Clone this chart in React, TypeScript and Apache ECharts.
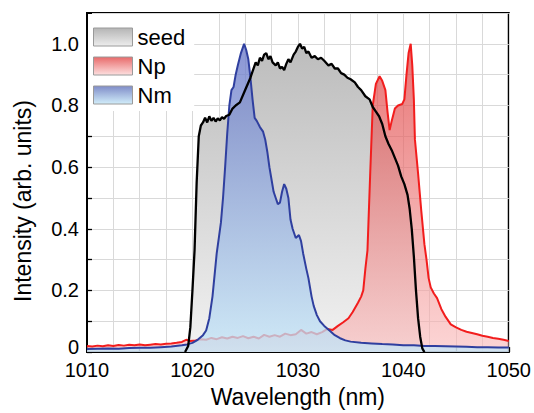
import React, { useEffect, useRef } from 'react';
import * as echarts from 'echarts';

// Wavelength (nm) / normalised intensity pairs
const seedSpectrum: [number, number][] = [
  [1019.3, 0], [1019.6, 0.02], [1019.8, 0.08], [1020.0, 0.2], [1020.2, 0.33], [1020.4, 0.55],
  [1020.6, 0.7], [1020.8, 0.735], [1021.0, 0.745], [1021.2, 0.76], [1021.4, 0.745], [1021.6, 0.765],
  [1021.8, 0.75], [1022.0, 0.76], [1022.2, 0.748], [1022.4, 0.758], [1022.6, 0.752], [1022.8, 0.762],
  [1023.0, 0.757], [1023.2, 0.766], [1023.5, 0.77], [1023.8, 0.79], [1024.1, 0.8], [1024.5, 0.81],
  [1025.0, 0.85], [1025.5, 0.89], [1025.8, 0.92], [1026.0, 0.94], [1026.2, 0.93], [1026.4, 0.955],
  [1026.6, 0.945], [1026.8, 0.965], [1027.0, 0.97], [1027.2, 0.95], [1027.4, 0.96], [1027.6, 0.94],
  [1027.9, 0.93], [1028.1, 0.94], [1028.3, 0.92], [1028.5, 0.925], [1028.7, 0.915], [1028.9, 0.935],
  [1029.1, 0.95], [1029.3, 0.94], [1029.6, 0.965], [1029.8, 0.975], [1030.0, 0.99], [1030.2, 1.0],
  [1030.4, 0.985], [1030.6, 0.99], [1030.8, 0.97], [1031.0, 0.975], [1031.3, 0.955], [1031.6, 0.96],
  [1031.9, 0.95], [1032.2, 0.955], [1032.5, 0.945], [1032.9, 0.93], [1033.2, 0.935], [1033.5, 0.92],
  [1033.8, 0.92], [1034.1, 0.905], [1034.4, 0.9], [1034.7, 0.89], [1035.0, 0.885], [1035.4, 0.875],
  [1035.7, 0.86], [1036.0, 0.85], [1036.4, 0.83], [1036.8, 0.82], [1037.1, 0.795], [1037.4, 0.78],
  [1037.7, 0.765], [1038.0, 0.74], [1038.3, 0.7], [1038.6, 0.675], [1038.9, 0.655], [1039.2, 0.63],
  [1039.5, 0.605], [1039.8, 0.57], [1040.1, 0.545], [1040.4, 0.51], [1040.6, 0.465], [1040.8, 0.4],
  [1041.0, 0.31], [1041.2, 0.2], [1041.4, 0.11], [1041.6, 0.05], [1041.8, 0.012], [1042.0, 0],
];

const npSpectrum: [number, number][] = [
  [1010, 0.02], [1010.5, 0.018], [1011, 0.021], [1011.5, 0.019], [1012, 0.022], [1012.5, 0.02],
  [1013, 0.023], [1013.5, 0.021], [1014, 0.024], [1014.5, 0.022], [1015, 0.025], [1015.5, 0.022],
  [1016, 0.024], [1016.5, 0.026], [1017, 0.025], [1017.5, 0.027], [1018, 0.028], [1018.5, 0.03],
  [1019, 0.033], [1019.4, 0.04], [1019.8, 0.036], [1020.3, 0.038], [1020.8, 0.042], [1021.3, 0.04],
  [1021.8, 0.046], [1022.3, 0.042], [1022.8, 0.048], [1023.3, 0.044], [1023.8, 0.05], [1024.3, 0.046],
  [1024.8, 0.052], [1025.3, 0.045], [1025.8, 0.05], [1026.3, 0.044], [1026.8, 0.056], [1027.3, 0.05],
  [1027.8, 0.055], [1028.3, 0.05], [1028.8, 0.06], [1029.3, 0.055], [1029.8, 0.058], [1030.3, 0.072],
  [1030.8, 0.06], [1031.3, 0.065], [1031.8, 0.058], [1032.3, 0.065], [1032.8, 0.075], [1033.3, 0.072],
  [1033.8, 0.085], [1034.3, 0.097], [1034.8, 0.11], [1035.2, 0.13], [1035.7, 0.16], [1036.0, 0.18],
  [1036.2, 0.2], [1036.4, 0.27], [1036.6, 0.33], [1036.85, 0.57], [1037.1, 0.8], [1037.4, 0.87],
  [1037.75, 0.895], [1038.0, 0.88], [1038.3, 0.85], [1038.5, 0.78], [1038.7, 0.72], [1038.9, 0.75],
  [1039.2, 0.79], [1039.5, 0.8], [1039.9, 0.805], [1040.1, 0.82], [1040.3, 0.9], [1040.5, 0.97],
  [1040.7, 1.0], [1040.85, 0.93], [1041.0, 0.82], [1041.1, 0.69], [1041.4, 0.58], [1041.7, 0.46],
  [1042.0, 0.35], [1042.2, 0.3], [1042.4, 0.24], [1042.6, 0.21], [1042.9, 0.19], [1043.2, 0.175],
  [1043.6, 0.14], [1044.0, 0.115], [1044.5, 0.09], [1045.0, 0.08], [1045.5, 0.072], [1046.0, 0.066],
  [1046.5, 0.062], [1047.0, 0.058], [1047.5, 0.053], [1048.0, 0.05], [1048.5, 0.046], [1049.0, 0.043],
  [1049.5, 0.04], [1050, 0.036],
];

const nmSpectrum: [number, number][] = [
  [1010, 0.01], [1011, 0.011], [1012, 0.012], [1013, 0.011], [1014, 0.013], [1015, 0.014],
  [1016, 0.014], [1017, 0.016], [1018, 0.018], [1019, 0.022], [1019.5, 0.025], [1020, 0.03],
  [1020.5, 0.04], [1021, 0.055], [1021.3, 0.07], [1021.6, 0.11], [1021.9, 0.18], [1022.1, 0.25],
  [1022.3, 0.32], [1022.5, 0.37], [1022.7, 0.42], [1022.9, 0.5], [1023.1, 0.6], [1023.3, 0.71],
  [1023.5, 0.8], [1023.7, 0.85], [1023.9, 0.86], [1024.1, 0.9], [1024.3, 0.93], [1024.6, 0.97],
  [1024.9, 1.0], [1025.1, 0.98], [1025.3, 0.95], [1025.5, 0.89], [1025.7, 0.82], [1025.9, 0.76],
  [1026.1, 0.75], [1026.4, 0.73], [1026.7, 0.715], [1026.9, 0.69], [1027.1, 0.65], [1027.3, 0.6],
  [1027.5, 0.56], [1027.7, 0.52], [1027.9, 0.5], [1028.1, 0.48], [1028.3, 0.485], [1028.5, 0.52],
  [1028.7, 0.545], [1028.9, 0.53], [1029.1, 0.5], [1029.3, 0.43], [1029.5, 0.4], [1029.8, 0.37],
  [1030.1, 0.38], [1030.3, 0.36], [1030.5, 0.32], [1030.8, 0.27], [1031.0, 0.24], [1031.3, 0.18],
  [1031.5, 0.15], [1031.8, 0.12], [1032.1, 0.1], [1032.5, 0.085], [1033, 0.07], [1033.5, 0.055],
  [1034, 0.045], [1034.5, 0.038], [1035, 0.034], [1036, 0.03], [1037, 0.028], [1038, 0.026],
  [1039, 0.025], [1040, 0.022], [1041, 0.022], [1042, 0.02], [1043, 0.02], [1044, 0.019],
  [1045, 0.018], [1046, 0.017], [1047, 0.016], [1048, 0.016], [1049, 0.015], [1050, 0.015],
];

const seriesNames = ['seed', 'Np', 'Nm'];
const xTitle = 'Wavelength (nm)';
const yTitle = 'Intensity (arb. units)';

const FONT = 'Liberation Sans';

const grad = (top: string, bottom: string) =>
  new echarts.graphic.LinearGradient(0, 0, 0, 1, [
    { offset: 0, color: top },
    { offset: 1, color: bottom },
  ]);

export default function App() {
  const ref = useRef<HTMLDivElement>(null);
  useEffect(() => {
    const chart = echarts.init(ref.current!, null, { renderer: 'svg' });
    const gridLine = { lineStyle: { color: '#d9d9d9', width: 1 } };
    const base = { fontFamily: FONT, color: '#000', fontWeight: 'normal' as const };
    chart.setOption({
      animation: false,
      textStyle: { fontFamily: FONT },
      grid: {
        left: 87, right: 22, top: 13, bottom: 57,
        show: true, borderColor: '#000', borderWidth: 2, backgroundColor: 'transparent',
      },
      legend: {
        orient: 'vertical', left: 88, top: 14,
        itemWidth: 39, itemHeight: 18, itemGap: 7,
        padding: [12, 9, 5, 5],
        backgroundColor: '#fff',
        icon: 'rect',
        textStyle: { ...base, fontSize: 22, lineHeight: 19 },
        data: [
          { name: seriesNames[0], itemStyle: { color: grad('#b5b5b5', '#ededed'), borderColor: '#9a9a9a', borderWidth: 1 } },
          { name: seriesNames[1], itemStyle: { color: grad('#e86a6a', '#fde0e0'), borderColor: '#9a9a9a', borderWidth: 1 } },
          { name: seriesNames[2], itemStyle: { color: grad('#7f8cc8', '#d2eefa'), borderColor: '#9a9a9a', borderWidth: 1 } },
        ],
      },
      graphic: [
        {
          type: 'text', x: 23, y: 201, rotation: Math.PI / 2,
          style: { text: yTitle, font: `23px ${FONT}`, fill: '#000', align: 'center', verticalAlign: 'middle' },
        },
      ],
      xAxis: {
        type: 'value', min: 1010, max: 1050, interval: 5,
        name: xTitle, nameLocation: 'middle', nameGap: 31,
        nameTextStyle: { ...base, fontSize: 23 },
        axisLine: { show: true, onZero: false, lineStyle: { color: '#000', width: 2 } },
        axisTick: { show: true, inside: true, length: 5, lineStyle: { color: '#000', width: 1.3 } },
        axisLabel: {
          ...base, fontSize: 20, margin: 10, lineHeight: 16,
          formatter: (v: number) => (Math.round(v) % 10 === 0 ? String(Math.round(v)) : ''),
        },
        splitLine: { show: true, ...gridLine },
        minorTick: { show: false, splitNumber: 2 },
        minorSplitLine: { show: true, ...gridLine },
      },
      yAxis: {
        type: 'value', min: 0, max: 1.1, interval: 0.1,
        axisLine: { show: true, onZero: false, lineStyle: { color: '#000', width: 2 } },
        axisTick: { show: true, inside: true, length: 5, lineStyle: { color: '#000', width: 1.3 } },
        axisLabel: {
          ...base, fontSize: 20, margin: 8, lineHeight: 14,
          formatter: (v: number) => {
            const k = Math.round(v * 10);
            if (k % 2 !== 0) return '';
            return k === 0 ? '{zero|0}' : (k / 10).toFixed(1);
          },
          rich: {
            zero: { ...base, fontSize: 20, lineHeight: 14, padding: [0, 0, 10, 0] },
          },
        },
        splitLine: { show: true, ...gridLine },
      },
      series: [
        {
          name: seriesNames[0], type: 'line', data: seedSpectrum, symbol: 'none',
          lineStyle: { width: 0, opacity: 0 },
          areaStyle: { color: grad('#bcbcbc', '#f2f2f2'), opacity: 1 },
          z: 2,
        },
        {
          name: seriesNames[1], type: 'line', data: npSpectrum, symbol: 'none',
          lineStyle: { color: '#f21d1d', width: 2 },
          itemStyle: { color: '#f21d1d' },
          areaStyle: { color: grad('rgba(222,60,60,0.72)', 'rgba(250,185,185,0.6)'), opacity: 1 },
          z: 3,
        },
        {
          name: seriesNames[2], type: 'line', data: nmSpectrum, symbol: 'none',
          lineStyle: { color: '#2f3f9f', width: 2 },
          itemStyle: { color: '#2f3f9f' },
          areaStyle: { color: grad('rgba(106,120,200,0.78)', 'rgba(195,230,248,0.75)'), opacity: 1 },
          z: 4,
        },
        {
          name: seriesNames[0], type: 'line', data: seedSpectrum, symbol: 'none',
          lineStyle: { color: '#000', width: 2.3 },
          itemStyle: { color: '#000' },
          z: 5,
        },
      ],
    });
    return () => chart.dispose();
  }, []);
  return <div ref={ref} style={{ position: 'absolute', left: 0, top: 0, width: 534, height: 413 }} />;
}
